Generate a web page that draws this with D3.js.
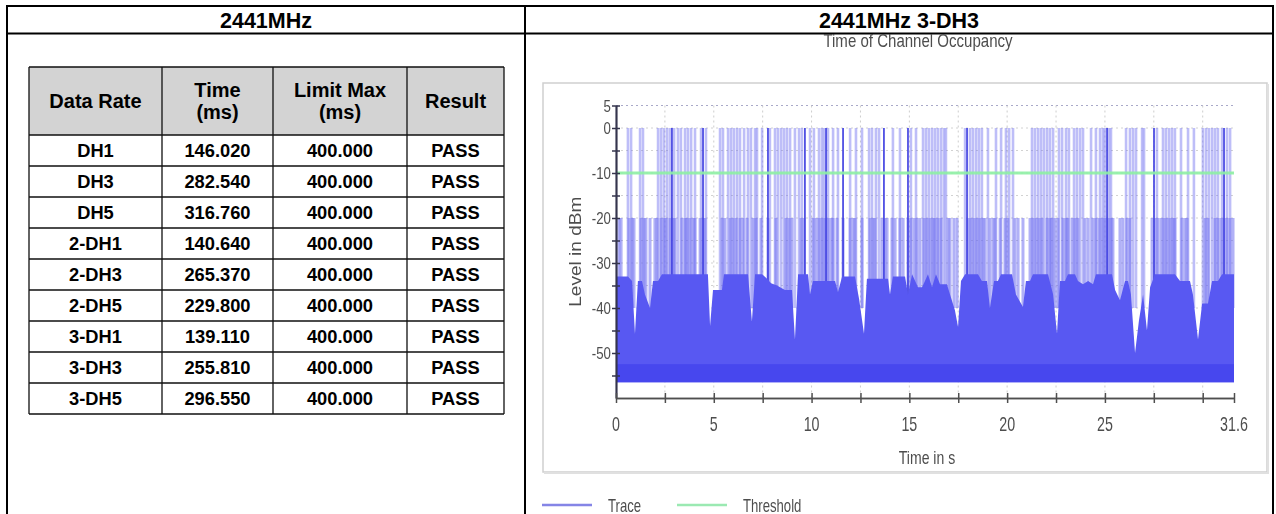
<!DOCTYPE html>
<html>
<head>
<meta charset="utf-8">
<script src="https://cdn.jsdelivr.net/npm/d3@7/dist/d3.min.js"></script>
<style>
  html, body { margin: 0; padding: 0; background: #fff; }
  svg { display: block; }
</style>
</head>
<body>
<svg id="page" width="1276" height="514"></svg>
<script>
// ---------- table content ----------
const panelTitles = ["2441MHz", "2441MHz 3-DH3"];
const columnHeaders = [["Data Rate"], ["Time", "(ms)"], ["Limit Max", "(ms)"], ["Result"]];
const dataRates = ["DH1", "DH3", "DH5", "2-DH1", "2-DH3", "2-DH5", "3-DH1", "3-DH3", "3-DH5"];
const occupancyMs = [146.020, 282.540, 316.760, 140.640, 265.370, 229.800, 139.110, 255.810, 296.550];
const limitMs = [400, 400, 400, 400, 400, 400, 400, 400, 400];
const results = ["PASS", "PASS", "PASS", "PASS", "PASS", "PASS", "PASS", "PASS", "PASS"];

// ---------- chart content ----------
const chartTitle = "Time of Channel Occupancy";
const xAxisTitle = "Time in s";
const yAxisTitle = "Level in dBm";
const legendItems = ["Trace", "Threshold"];
const timeSpanS = [0, 31.6];
const levelSpanDbm = [-60, 5];
const xTickValues = [0, 2.5, 5, 7.5, 10, 12.5, 15, 17.5, 20, 22.5, 25, 27.5, 30, 31.6];
const xTickLabels = [0, 5, 10, 15, 20, 25, 31.6];
const xGridValues = [2.5, 5, 7.5, 10, 12.5, 15, 17.5, 20, 22.5, 25, 27.5, 30];
const yTickValues = [5, 0, -5, -10, -15, -20, -25, -30, -35, -40, -45, -50, -55];
const yTickLabels = [5, 0, -10, -20, -30, -40, -50];
const thresholdDbm = -10;
const noiseFloorDbm = [-56.5, -52.5];
const hopPeakDbm = 0;
const hopMidDbm = -20;

// hops reaching the 0 dBm clip level (s)
const peakHopsS = [0.61, 0.77, 1.23, 1.38, 2.15, 2.30, 2.45, 2.61, 2.76, 2.97, 3.17, 3.32, 3.53, 3.68, 3.84, 4.04,
  4.35, 4.60, 5.32, 5.47, 5.73, 5.88, 6.03, 6.19, 6.34, 6.55, 6.75, 6.90, 7.11, 7.21, 7.47, 7.87, 8.13, 8.28,
  8.44, 8.59, 8.74, 8.90, 9.15, 9.36, 9.51, 9.92, 10.12, 10.38, 10.53, 10.64, 10.84, 11.10, 11.35, 11.97,
  12.27, 12.58, 12.94, 13.09, 13.29, 13.45, 14.16, 14.52, 15.08, 15.34, 15.70, 15.85, 16.00, 16.16, 16.31,
  16.46, 16.62, 16.77, 16.87, 17.85, 18.10, 18.25, 18.41, 18.56, 18.71, 19.02, 19.43, 19.69, 19.94, 20.10,
  20.30, 21.27, 21.42, 21.58, 21.73, 21.88, 22.04, 22.19, 22.35, 22.65, 22.81, 23.01, 23.16, 23.42, 23.57,
  23.73, 23.88, 24.29, 24.54, 24.75, 24.90, 25.00, 25.21, 25.31, 26.08, 26.28, 26.44, 26.59, 26.90, 27.00,
  27.66, 27.97, 28.12, 28.28, 28.43, 28.58, 28.89, 29.25, 29.55, 30.01, 30.17, 30.32, 30.48, 30.63, 30.78,
  30.99, 31.24, 31.40];
// the brightest of those hops
const strongHopsS = [2.86, 4.45, 7.77, 9.66, 10.74, 11.61, 13.70, 14.93, 17.95, 25.11, 27.51, 31.09];
// hops reaching the -20 dBm level (s)
const midHopsS = [0.15, 0.26, 0.66, 0.82, 0.92, 1.28, 1.43, 1.53, 1.74, 1.99, 2.10, 2.30, 2.45, 2.56, 2.76,
  2.91, 3.02, 3.37, 3.53, 3.63, 3.78, 3.94, 4.04, 4.30, 4.45, 4.55, 5.42, 5.57, 5.83, 5.98, 6.14, 6.34, 6.49,
  6.70, 7.01, 7.16, 7.41, 7.77, 8.18, 8.69, 8.85, 9.00, 9.46, 9.61, 10.07, 10.23, 10.38, 10.53, 10.69, 10.84,
  10.99, 11.10, 11.30, 11.61, 11.97, 12.12, 12.22, 12.58, 12.99, 13.14, 13.24, 13.60, 13.75, 13.86, 14.11,
  14.27, 14.52, 14.68, 14.93, 15.08, 15.24, 15.39, 15.54, 15.75, 15.90, 16.06, 16.21, 16.31, 16.46, 16.62,
  16.98, 17.08, 17.28, 17.44, 18.00, 18.15, 18.31, 18.46, 18.61, 18.77, 18.87, 19.12, 19.28, 19.38, 19.64,
  19.89, 20.04, 20.40, 20.56, 20.81, 21.17, 21.32, 21.48, 21.63, 21.78, 22.04, 22.19, 22.29, 22.45, 22.60,
  22.86, 23.01, 23.11, 23.32, 23.47, 23.62, 23.98, 24.14, 24.39, 24.54, 24.70, 24.85, 25.00, 25.16, 25.31,
  25.41, 25.77, 25.92, 26.13, 26.28, 27.41, 27.56, 27.71, 27.87, 28.02, 28.17, 28.33, 28.48, 28.58, 28.94,
  29.09, 29.20, 30.12, 30.27, 30.63, 30.78, 30.94, 31.09, 31.24, 31.40, 31.55];

// upper edge of the dense trace body
const envelopeS = [0, 0.61, 0.82, 0.97, 1.12, 1.33, 1.48, 1.74, 1.89, 2.15, 2.35, 4.70, 4.81, 4.96, 5.42, 5.52,
  6.75, 6.95, 7.11, 7.47, 7.67, 7.93, 8.23, 8.64, 9.00, 9.15, 9.31, 9.82, 9.92, 10.07, 11.20, 11.35, 11.56,
  12.22, 12.43, 12.68, 12.83, 13.91, 14.01, 14.16, 14.78, 14.93, 15.14, 15.44, 15.65, 15.80, 15.95, 16.16,
  16.36, 16.57, 16.92, 17.08, 17.33, 17.49, 17.64, 17.85, 18.51, 18.71, 18.97, 19.12, 19.33, 19.53, 19.69,
  20.25, 20.45, 20.81, 20.96, 21.17, 21.32, 22.09, 22.35, 22.55, 22.70, 22.96, 23.11, 23.47, 23.62, 23.88,
  24.14, 24.39, 24.54, 25.36, 25.52, 25.77, 26.03, 26.18, 26.33, 26.54, 26.74, 26.95, 27.15, 27.31, 27.56,
  28.58, 28.84, 29.35, 29.50, 29.76, 29.97, 30.27, 30.48, 30.78, 30.99, 31.6];
const envelopeDbm = [-33, -33, -34, -45.7, -34, -34, -37, -40, -34, -34, -32.5, -32.5, -44, -36, -36, -32.5,
  -32.5, -43, -32.5, -32.5, -33.3, -34.5, -35, -36, -36, -47, -32.5, -32.5, -37, -34, -34, -36.5, -33,
  -33, -38, -45.7, -33.5, -33.5, -37, -33, -33, -37, -32.5, -35.4, -35.4, -34, -32.5, -35.4,
  -32.5, -34.7, -34.7, -37, -40.5, -44.2, -34, -32.5, -32.5, -34, -34, -40, -34, -34, -32.5,
  -32.5, -37, -39.8, -34, -34, -32.5, -32.5, -37, -45.7, -34, -34, -32.5, -32.5, -34, -34.7,
  -34, -34.7, -32.5, -32.5, -36, -38.3, -34, -34, -37, -50, -42.8, -37, -45, -35.4, -32.5,
  -32.5, -34, -34, -37, -47, -39, -39, -34, -34, -32.5, -32.5];

// ---------- drawing ----------
const svg = d3.select("#page");
const FONT = "'Liberation Sans', Arial, Helvetica, sans-serif";

// page frame of the two-panel layout
const frame = { left: 7, right: 1273, top: 6, headBottom: 33.5, split: 525, bottom: 520 };
const g0 = svg.append("g");
g0.append("path")
  .attr("d", `M${frame.left},${frame.bottom}V${frame.top}H${frame.right}V${frame.bottom}` +
             `M${frame.left},${frame.headBottom}H${frame.right}` +
             `M${frame.split},${frame.top}V${frame.bottom}`)
  .attr("fill", "none").attr("stroke", "#000").attr("stroke-width", 2);

const panelCenters = [(frame.left + frame.split) / 2, (frame.split + frame.right) / 2];
g0.selectAll("text.ptitle").data(panelTitles).join("text")
  .attr("class", "ptitle")
  .attr("x", (d, i) => panelCenters[i]).attr("y", 28)
  .attr("text-anchor", "middle")
  .attr("font-family", FONT).attr("font-weight", "bold").attr("font-size", 21.5)
  .text(d => d);

// ---------- results table ----------
const colEdges = [29, 162, 273, 407, 504];
const headTop = 67, headBottom = 135, rowH = 31;
const rowScale = d3.scaleBand().domain(dataRates).range([headBottom, headBottom + rowH * dataRates.length]);
const tableBottom = headBottom + rowH * dataRates.length;
const tg = svg.append("g");

tg.append("rect")
  .attr("x", colEdges[0]).attr("y", headTop)
  .attr("width", colEdges[4] - colEdges[0]).attr("height", headBottom - headTop)
  .attr("fill", "#d3d3d3");

const cellLines = [];
cellLines.push(`M${colEdges[0]},${headTop}H${colEdges[4]}`);
cellLines.push(`M${colEdges[0]},${headBottom}H${colEdges[4]}`);
dataRates.forEach(r => cellLines.push(`M${colEdges[0]},${rowScale(r) + rowH}H${colEdges[4]}`));
colEdges.forEach(x => cellLines.push(`M${x},${headTop}V${tableBottom}`));
tg.append("path").attr("d", cellLines.join(""))
  .attr("fill", "none").attr("stroke", "#111").attr("stroke-width", 1.3);

const colCenters = d3.range(4).map(i => (colEdges[i] + colEdges[i + 1]) / 2);
columnHeaders.forEach((lines, i) => {
  const mid = (headTop + headBottom) / 2;
  const lh = 22;
  lines.forEach((ln, j) => {
    tg.append("text")
      .attr("x", colCenters[i])
      .attr("y", mid + 7 + (j - (lines.length - 1) / 2) * lh)
      .attr("text-anchor", "middle")
      .attr("font-family", FONT).attr("font-weight", "bold").attr("font-size", 20)
      .text(ln);
  });
});

const fmt = d3.format(".3f");
const rows = dataRates.map((r, i) => [r, fmt(occupancyMs[i]), fmt(limitMs[i]), results[i]]);
rows.forEach((cells, i) => {
  cells.forEach((c, j) => {
    tg.append("text")
      .attr("x", colCenters[j])
      .attr("y", rowScale(dataRates[i]) + rowH / 2 + 6.5)
      .attr("text-anchor", "middle")
      .attr("font-family", FONT).attr("font-weight", "bold").attr("font-size", 18.3)
      .text(c);
  });
});

// ---------- channel occupancy plot ----------
const defs = svg.append("defs");
defs.append("filter").attr("id", "soft")
  .append("feGaussianBlur").attr("stdDeviation", 0.6);

const cg = svg.append("g").attr("filter", "url(#soft)");
const gray = "#4e4e4e";

// plot frame box
cg.append("rect")
  .attr("x", 543).attr("y", 83).attr("width", 724).attr("height", 389)
  .attr("fill", "#fff").attr("stroke", "#cfcfcf").attr("stroke-width", 1.5);
cg.append("path").attr("d", "M1268,84V473H544")
  .attr("fill", "none").attr("stroke", "#e0e0e0").attr("stroke-width", 2);

const x = d3.scaleLinear().domain(timeSpanS).range([616, 1234]);
const y = d3.scaleLinear().domain(levelSpanDbm).range([398, 105.5]);

// condensed chart lettering
const narrowText = (sel, px, py, anchor, size, sx) => {
  sel.attr("transform", `translate(${px},${py}) scale(${sx},1)`)
    .attr("text-anchor", anchor)
    .attr("font-family", FONT).attr("font-size", size).attr("fill", gray);
  return sel;
};
narrowText(cg.append("text"), 918, 47, "middle", 17.5, 0.86).text(chartTitle);

// grid
const grid = cg.append("g").attr("stroke", "#cdcdcd").attr("stroke-width", 1).attr("stroke-dasharray", "2,3");
grid.selectAll("line.h").data(yTickValues).join("line")
  .attr("x1", x(timeSpanS[0])).attr("x2", x(timeSpanS[1]))
  .attr("y1", d => y(d)).attr("y2", d => y(d))
  .attr("stroke", d => d === levelSpanDbm[1] ? "#a9a9c9" : "#d2d2d2");
grid.selectAll("line.v").data(xGridValues).join("line")
  .attr("x1", d => x(d)).attr("x2", d => x(d))
  .attr("y1", y(levelSpanDbm[1])).attr("y2", y(levelSpanDbm[0]));

// trace: hop spikes first, then the dense body on top of them
const tr = cg.append("g");
tr.selectAll("line.mid").data(midHopsS).join("line")
  .attr("x1", d => x(d)).attr("x2", d => x(d))
  .attr("y1", y(-40)).attr("y2", y(hopMidDbm))
  .attr("stroke", "#6464ef").attr("stroke-opacity", 0.5).attr("stroke-width", 3);
tr.selectAll("line.peak").data(peakHopsS).join("line")
  .attr("x1", d => x(d)).attr("x2", d => x(d))
  .attr("y1", y(-40)).attr("y2", y(hopPeakDbm))
  .attr("stroke", "#7272f0").attr("stroke-opacity", 0.46).attr("stroke-width", 2.6);
tr.selectAll("line.strong").data(strongHopsS).join("line")
  .attr("x1", d => x(d)).attr("x2", d => x(d))
  .attr("y1", y(-40)).attr("y2", y(hopPeakDbm))
  .attr("stroke", "#4444e2").attr("stroke-opacity", 0.95).attr("stroke-width", 1.8);

const body = envelopeS.map((t, i) => [t, envelopeDbm[i]]);
tr.append("path").datum(body)
  .attr("d", d3.area().x(d => x(d[0])).y0(y(noiseFloorDbm[0])).y1(d => y(d[1])))
  .attr("fill", "#5858f2");
tr.append("rect")
  .attr("x", x(timeSpanS[0])).attr("width", x(timeSpanS[1]) - x(timeSpanS[0]))
  .attr("y", y(noiseFloorDbm[1])).attr("height", y(noiseFloorDbm[0]) - y(noiseFloorDbm[1]))
  .attr("fill", "#4646ee");

// threshold
cg.append("line")
  .attr("x1", x(timeSpanS[0])).attr("x2", x(timeSpanS[1]))
  .attr("y1", y(thresholdDbm)).attr("y2", y(thresholdDbm))
  .attr("stroke", "#8ef0a4").attr("stroke-opacity", 0.9).attr("stroke-width", 3);

// axes (ticks drawn on both sides of each axis line)
const styleAxis = (g, col) => {
  g.select(".domain").attr("stroke", col).attr("stroke-width", 1.7);
  g.selectAll(".tick line").attr("stroke", col).attr("stroke-width", 1.5);
  g.selectAll(".tick text").remove();
};
const yL = cg.append("g").attr("transform", `translate(${x(0)},0)`)
  .call(d3.axisLeft(y).tickValues(yTickValues).tickSize(4).tickSizeOuter(0));
styleAxis(yL, "#34344e");
const yR = cg.append("g").attr("transform", `translate(${x(0)},0)`)
  .call(d3.axisRight(y).tickValues(yTickValues).tickSize(4).tickSizeOuter(0));
styleAxis(yR, "#34344e");
yTickLabels.forEach(v => {
  narrowText(cg.append("text"), x(0) - 5, y(v) + 6, "end", 17, 0.78).text(v);
});

const xB = cg.append("g").attr("transform", `translate(0,${y(levelSpanDbm[0])})`)
  .call(d3.axisBottom(x).tickValues(xTickValues).tickSize(5).tickSizeOuter(0));
styleAxis(xB, "#505050");
const xT = cg.append("g").attr("transform", `translate(0,${y(levelSpanDbm[0])})`)
  .call(d3.axisTop(x).tickValues(xTickValues).tickSize(5).tickSizeOuter(0));
styleAxis(xT, "#505050");
xTickLabels.forEach(v => {
  narrowText(cg.append("text"), x(v), 431, "middle", 21, 0.68).text(v);
});

narrowText(cg.append("text"), (x(0) + x(31.6)) / 2 + 2, 464, "middle", 18, 0.78).text(xAxisTitle);
cg.append("text")
  .attr("transform", `translate(581,${(y(levelSpanDbm[0]) + y(levelSpanDbm[1])) / 2}) rotate(-90) scale(1.12,1)`)
  .attr("text-anchor", "middle")
  .attr("font-family", FONT).attr("font-size", 17).attr("fill", gray)
  .text(yAxisTitle);

// legend
const legendColors = ["#8585e6", "#9be9b2"];
const legendX = [542, 677];
legendItems.forEach((name, i) => {
  cg.append("line")
    .attr("x1", legendX[i]).attr("x2", legendX[i] + 50)
    .attr("y1", 505).attr("y2", 505)
    .attr("stroke", legendColors[i]).attr("stroke-width", 2.5);
  narrowText(cg.append("text"), legendX[i] + 66, 512, "start", 18, 0.73).text(name);
});
</script>
</body>
</html>
